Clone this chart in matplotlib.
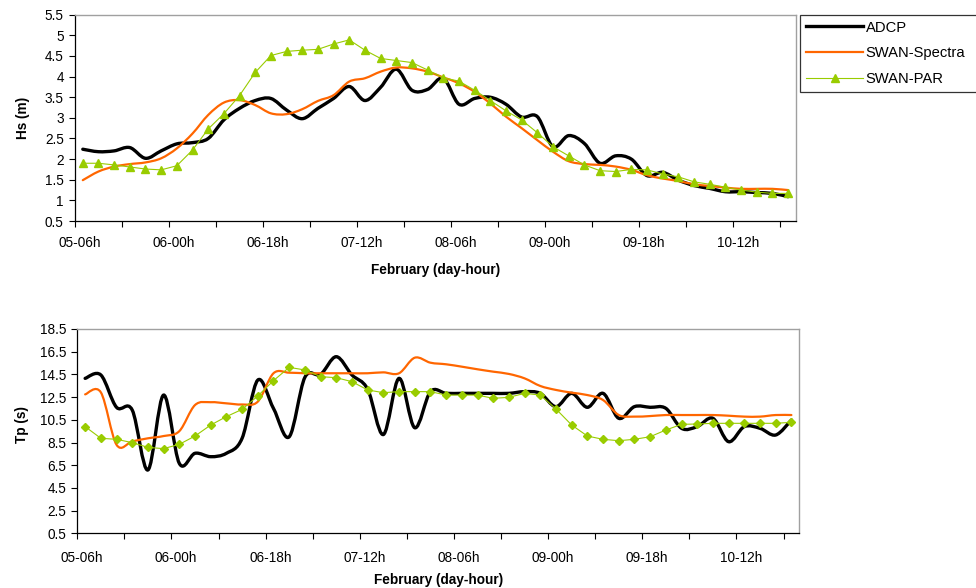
import numpy as np
import matplotlib.pyplot as plt
from matplotlib.path import Path
from matplotlib.patches import PathPatch
from matplotlib.lines import Line2D

plt.rcParams['font.family'] = ['Liberation Sans', 'DejaVu Sans']

# one value every 3 hours, 05-06h .. 10-21h (46 categories)
tick_labels = ['05-06h', '06-00h', '06-18h', '07-12h', '08-06h', '09-00h', '09-18h', '10-12h']

hs_adcp = [2.24, 2.18, 2.20, 2.28, 2.02, 2.20, 2.37, 2.40, 2.50, 2.95,
           3.23, 3.42, 3.47, 3.19, 2.98, 3.23, 3.47, 3.76, 3.42, 3.74,
           4.18, 3.67, 3.69, 3.96, 3.33, 3.47, 3.50, 3.33, 3.02, 3.03,
           2.30, 2.57, 2.38, 1.90, 2.08, 2.00, 1.60, 1.68, 1.49, 1.36,
           1.29, 1.21, 1.21, 1.19, 1.17, 1.09]
hs_spectra = [1.49, 1.70, 1.82, 1.88, 1.92, 2.02, 2.26, 2.62, 3.07, 3.37,
              3.43, 3.31, 3.11, 3.09, 3.21, 3.41, 3.55, 3.88, 3.96, 4.12,
              4.22, 4.20, 4.12, 3.98, 3.84, 3.63, 3.35, 3.03, 2.75, 2.46,
              2.18, 1.95, 1.88, 1.86, 1.82, 1.74, 1.61, 1.53, 1.47, 1.39,
              1.35, 1.31, 1.28, 1.28, 1.28, 1.25]
hs_par = [1.90, 1.90, 1.86, 1.81, 1.76, 1.74, 1.84, 2.22, 2.73, 3.10,
          3.54, 4.10, 4.51, 4.61, 4.64, 4.66, 4.79, 4.89, 4.64, 4.44,
          4.39, 4.34, 4.16, 3.97, 3.89, 3.67, 3.42, 3.17, 2.95, 2.64,
          2.30, 2.08, 1.86, 1.72, 1.70, 1.75, 1.74, 1.64, 1.57, 1.45,
          1.39, 1.32, 1.25, 1.20, 1.17, 1.17]

tp_adcp = [14.15, 14.45, 11.6, 11.36, 6.08, 12.68, 6.66, 7.55, 7.25, 7.55,
           8.87, 14.0, 11.5, 9.0, 14.24, 14.5, 16.06, 14.45, 13.2, 9.2,
           14.15, 9.8, 12.98, 12.83, 12.83, 12.83, 12.83, 12.83, 12.98, 12.83,
           11.66, 12.83, 11.6, 12.83, 10.63, 11.66, 11.6, 11.51, 9.75, 9.9,
           10.63, 8.57, 9.9, 9.75, 9.16, 10.48]
tp_spectra = [12.74, 12.92, 8.3, 8.6, 8.87, 9.07, 9.5, 11.8, 12.05, 11.95,
              11.85, 12.1, 14.6, 14.65, 14.6, 14.6, 14.6, 14.6, 14.6, 14.68,
              14.6, 15.97, 15.53, 15.39, 15.18, 14.95, 14.74, 14.54, 14.15, 13.48,
              13.13, 12.89, 12.68, 12.24, 10.92, 10.78, 10.83, 10.92, 10.92, 10.92,
              10.92, 10.86, 10.78, 10.78, 10.92, 10.92]
tp_par = [9.90, 8.87, 8.78, 8.49, 8.07, 7.96, 8.34, 9.07, 10.04, 10.78,
          11.42, 12.60, 13.95, 15.12, 14.89, 14.30, 14.21, 13.86, 13.13, 12.89,
          12.98, 12.98, 12.98, 12.68, 12.68, 12.68, 12.39, 12.48, 12.83, 12.68,
          11.45, 10.04, 9.07, 8.78, 8.66, 8.78, 9.01, 9.60, 10.10, 10.13,
          10.19, 10.19, 10.19, 10.19, 10.19, 10.28]

BLACK = 'black'
ORANGE = '#ff6600'
GREEN = '#99cc00'
FS = 9.8
LEG_FS = 10.6


def smooth_path(x, y):
    # smoothed line like the spreadsheet one: cubic bezier through each point
    x = np.asarray(x, float)
    y = np.asarray(y, float)
    px = np.r_[x[0], x, x[-1]]
    py = np.r_[y[0], y, y[-1]]
    verts = [(x[0], y[0])]
    codes = [Path.MOVETO]
    for i in range(len(x) - 1):
        c1 = (x[i] + (px[i + 2] - px[i]) / 6, y[i] + (py[i + 2] - py[i]) / 6)
        c2 = (x[i + 1] - (px[i + 3] - px[i + 1]) / 6, y[i + 1] - (py[i + 3] - py[i + 1]) / 6)
        verts += [c1, c2, (x[i + 1], y[i + 1])]
        codes += [Path.CURVE4] * 3
    return Path(verts, codes)


def draw(ax, adcp, spectra, par, marker, ms):
    x = np.arange(len(adcp)) + 0.5
    ax.add_patch(PathPatch(smooth_path(x, adcp), fill=False, ec=BLACK, lw=2.4,
                           capstyle='round', joinstyle='round', zorder=2))
    ax.add_patch(PathPatch(smooth_path(x, spectra), fill=False, ec=ORANGE, lw=1.6,
                           capstyle='round', joinstyle='round', zorder=3))
    ax.plot(x, par, color=GREEN, lw=0.8, marker=marker, ms=ms, mfc=GREEN, mec=GREEN, zorder=4)


def style_axes(ax, ylim, yticks, ylabel, ylab_pos, xlab_y, xpad):
    ax.set_xlim(0, 46)
    ax.set_ylim(*ylim)
    ax.set_yticks(yticks)
    ax.set_yticklabels(['%g' % v for v in yticks], fontsize=FS)
    ax.set_xticks(np.arange(0, 46, 3), minor=True)
    ax.set_xticks(np.arange(0, 46, 6) + 0.3)
    ax.set_xticklabels(tick_labels, fontsize=FS)
    ax.tick_params(axis='x', which='major', length=0, pad=xpad)
    ax.tick_params(axis='x', which='minor', length=4, width=0.8, direction='out')
    ax.tick_params(axis='y', length=4, width=0.8, direction='out', pad=4.0)
    for s in ['top', 'right']:
        ax.spines[s].set_color('#a0a0a0')
        ax.spines[s].set_linewidth(1.0)
    for s in ['left', 'bottom']:
        ax.spines[s].set_color('black')
        ax.spines[s].set_linewidth(0.9)
    ax.set_ylabel(ylabel, fontsize=FS, fontweight='bold')
    ax.yaxis.set_label_coords(ylab_pos[0], ylab_pos[1])
    ax.set_xlabel('February (day-hour)', fontsize=FS, fontweight='bold')
    ax.xaxis.set_label_coords(0.5, xlab_y)


fig = plt.figure(figsize=(9.76, 5.88), dpi=100)
ax1 = fig.add_axes([0.0768, 0.6241, 0.7387, 0.3509])
ax2 = fig.add_axes([0.0792, 0.0930, 0.7397, 0.3475])

draw(ax1, hs_adcp, hs_spectra, hs_par, '^', 6)
style_axes(ax1, (0.5, 5.5), np.arange(0.5, 5.51, 0.5), 'Hs (m)', (-0.062, 0.5), -0.205, 10.8)

draw(ax2, tp_adcp, tp_spectra, tp_par, 'D', 3.8)
style_axes(ax2, (0.5, 18.5), np.arange(0.5, 18.51, 2), 'Tp (s)', (-0.067, 0.53), -0.195, 13.0)

handles = [Line2D([], [], color=BLACK, lw=2.4),
           Line2D([], [], color=ORANGE, lw=1.6),
           Line2D([], [], color=GREEN, lw=0.8, marker='^', ms=6)]
leg = fig.legend(handles, ['ADCP', 'SWAN-Spectra', 'SWAN-PAR'],
                 loc='upper left', bbox_to_anchor=(0.8197, 0.8481, 0.25, 0.1269),
                 mode='expand', borderaxespad=0, fontsize=LEG_FS, frameon=True,
                 fancybox=False, shadow=False, numpoints=1, handlelength=3.9,
                 handletextpad=0.15, labelspacing=0.8, borderpad=0.4)
leg.get_frame().set_edgecolor('black')
leg.get_frame().set_linewidth(0.9)

fig.savefig('out.png', dpi=100)
